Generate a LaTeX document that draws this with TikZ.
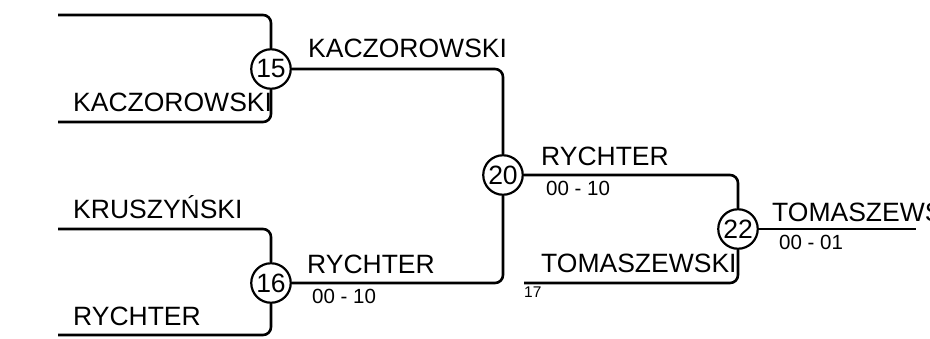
\documentclass[tikz,border=0pt]{standalone}
\usepackage{fontspec}
\setmainfont{Liberation Sans}
\begin{document}
\begin{tikzpicture}[x=1pt,y=-1pt,
  wire/.style={line width=2.6pt,rounded corners=8pt},
  match/.style={circle,draw,line width=2.2pt,minimum size=39.5pt,inner sep=0pt,fill=white,font=\fontsize{26.5}{30}\selectfont},
  pname/.style={anchor=base west,inner sep=0pt,font=\fontsize{26.5}{31}\selectfont},
  score/.style={anchor=base west,inner sep=0pt,font=\fontsize{20.5}{24}\selectfont},
  seed/.style={anchor=base west,inner sep=0pt,font=\fontsize{15.5}{18}\selectfont}]
\useasboundingbox (0,0) rectangle (930,338);
\clip (0,0) rectangle (930,338);
% coordinates
\coordinate (a1) at (58,15);
\coordinate (a2) at (58,122);
\coordinate (b1) at (58,229);
\coordinate (b2) at (58,335);
\coordinate (c2) at (524,283);
\coordinate (fin) at (916,229);
% matches
\node[match] (m15) at (271,69) {15};
\node[match] (m16) at (271,283) {16};
\node[match] (m20) at (503,175) {20};
\node[match] (m22) at (738,229) {22};
% wires
\draw[wire] (a1) -| (m15.north);
\draw[wire] (a2) -| (m15.south);
\draw[wire] (b1) -| (m16.north);
\draw[wire] (b2) -| (m16.south);
\draw[wire] (m15.east) -| (m20.north);
\draw[wire] (m16.east) -| (m20.south);
\draw[wire] (m20.east) -| (m22.north);
\draw[wire] (c2) -| (m22.south);
\draw[wire] (m22.east) -- (fin);
% labels
\node[pname] (t1) at (73,111) {KACZOROWSKI};
\node[pname] (t2) at (73,218) {KRUSZYŃSKI};
\node[pname] (t3) at (73,325) {RYCHTER};
\node[pname] (t4) at (308,57) {KACZOROWSKI};
\node[pname] (t5) at (307,273) {RYCHTER};
\node[score] (s5) at (312,303) {00 - 10};
\node[pname] (t6) at (541,165) {RYCHTER};
\node[score] (s6) at (546,195) {00 - 10};
\node[pname] (t7) at (541,272) {TOMASZEWSKI};
\node[seed] (n17) at (524,297) {17};
\node[pname] (t8) at (772,221) {TOMASZEWSKI};
\node[score] (s8) at (779,249) {00 - 01};
\end{tikzpicture}
\end{document}
